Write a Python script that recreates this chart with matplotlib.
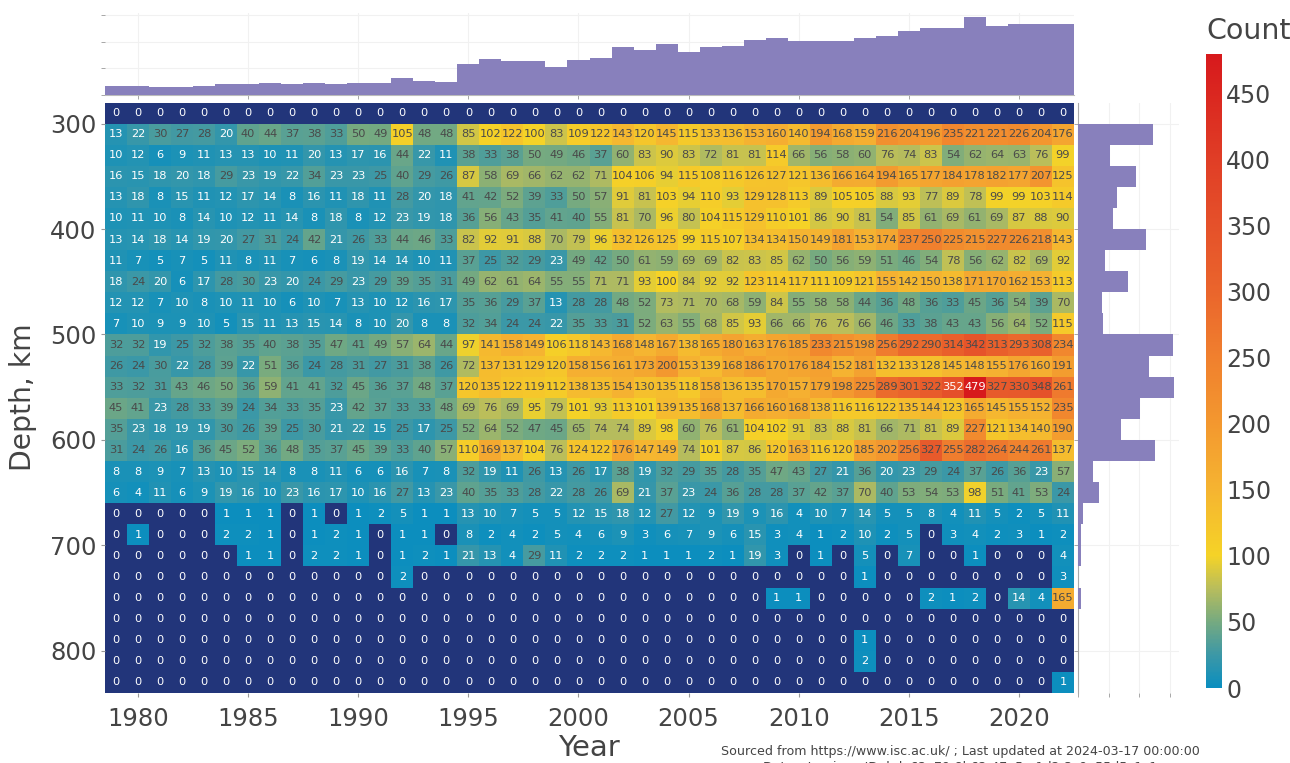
# 地震深度-年份热力图, 上方和右侧为边缘直方图
import numpy as np
import matplotlib
matplotlib.use('Agg')
import matplotlib.pyplot as plt
from matplotlib.colors import LinearSegmentedColormap, Normalize
from matplotlib.cm import ScalarMappable

years = list(range(1979, 2023))
depths = list(range(290, 850, 20))

counts = [
    [0] * 44,
    [13, 22, 30, 27, 28, 20, 40, 44, 37, 38, 33, 50, 49, 105, 48, 48, 85, 102, 122, 100, 83, 109, 122, 143, 120, 145, 115, 133, 136, 153, 160, 140, 194, 168, 159, 216, 204, 196, 235, 221, 221, 226, 204, 176],
    [10, 12, 6, 9, 11, 13, 13, 10, 11, 20, 13, 17, 16, 44, 22, 11, 38, 33, 38, 50, 49, 46, 37, 60, 83, 90, 83, 72, 81, 81, 114, 66, 56, 58, 60, 76, 74, 83, 54, 62, 64, 63, 76, 99],
    [16, 15, 18, 20, 18, 29, 23, 19, 22, 34, 23, 23, 25, 40, 29, 26, 87, 58, 69, 66, 62, 62, 71, 104, 106, 94, 115, 108, 116, 126, 127, 121, 136, 166, 164, 194, 165, 177, 184, 178, 182, 177, 207, 125],
    [13, 18, 8, 15, 11, 12, 17, 14, 8, 16, 11, 18, 11, 28, 20, 18, 41, 42, 52, 39, 33, 50, 57, 91, 81, 103, 94, 110, 93, 129, 128, 113, 89, 105, 105, 88, 93, 77, 89, 78, 99, 99, 103, 114],
    [10, 11, 10, 8, 14, 10, 12, 11, 14, 8, 18, 8, 12, 23, 19, 18, 36, 56, 43, 35, 41, 40, 55, 81, 70, 96, 80, 104, 115, 129, 110, 101, 86, 90, 81, 54, 85, 61, 69, 61, 69, 87, 88, 90],
    [13, 14, 18, 14, 19, 20, 27, 31, 24, 42, 21, 26, 33, 44, 46, 33, 82, 92, 91, 88, 70, 79, 96, 132, 126, 125, 99, 115, 107, 134, 134, 150, 149, 181, 153, 174, 237, 250, 225, 215, 227, 226, 218, 143],
    [11, 7, 5, 7, 5, 11, 8, 11, 7, 6, 8, 19, 14, 14, 10, 11, 37, 25, 32, 29, 23, 49, 42, 50, 61, 59, 69, 69, 82, 83, 85, 62, 50, 56, 59, 51, 46, 54, 78, 56, 62, 82, 69, 92],
    [18, 24, 20, 6, 17, 28, 30, 23, 20, 24, 29, 23, 29, 39, 35, 31, 49, 62, 61, 64, 55, 55, 71, 71, 93, 100, 84, 92, 92, 123, 114, 117, 111, 109, 121, 155, 142, 150, 138, 171, 170, 162, 153, 113],
    [12, 12, 7, 10, 8, 10, 11, 10, 6, 10, 7, 13, 10, 12, 16, 17, 35, 36, 29, 37, 13, 28, 28, 48, 52, 73, 71, 70, 68, 59, 84, 55, 58, 58, 44, 36, 48, 36, 33, 45, 36, 54, 39, 70],
    [7, 10, 9, 9, 10, 5, 15, 11, 13, 15, 14, 8, 10, 20, 8, 8, 32, 34, 24, 24, 22, 35, 33, 31, 52, 63, 55, 68, 85, 93, 66, 66, 76, 76, 66, 46, 33, 38, 43, 43, 56, 64, 52, 115],
    [32, 32, 19, 25, 32, 38, 35, 40, 38, 35, 47, 41, 49, 57, 64, 44, 97, 141, 158, 149, 106, 118, 143, 168, 148, 167, 138, 165, 180, 163, 176, 185, 233, 215, 198, 256, 292, 290, 314, 342, 313, 293, 308, 234],
    [26, 24, 30, 22, 28, 39, 22, 51, 36, 24, 28, 31, 27, 31, 38, 26, 72, 137, 131, 129, 120, 158, 156, 161, 173, 200, 153, 139, 168, 186, 170, 176, 184, 152, 181, 132, 133, 128, 145, 148, 155, 176, 160, 191],
    [33, 32, 31, 43, 46, 50, 36, 59, 41, 41, 32, 45, 36, 37, 48, 37, 120, 135, 122, 119, 112, 138, 135, 154, 130, 135, 118, 158, 136, 135, 170, 157, 179, 198, 225, 289, 301, 322, 352, 479, 327, 330, 348, 261],
    [45, 41, 23, 28, 33, 39, 24, 34, 33, 35, 23, 42, 37, 33, 33, 48, 69, 76, 69, 95, 79, 101, 93, 113, 101, 139, 135, 168, 137, 166, 160, 168, 138, 116, 116, 122, 135, 144, 123, 165, 145, 155, 152, 235],
    [35, 23, 18, 19, 19, 30, 26, 39, 25, 30, 21, 22, 15, 25, 17, 25, 52, 64, 52, 47, 45, 65, 74, 74, 89, 98, 60, 76, 61, 104, 102, 91, 83, 88, 81, 66, 71, 81, 89, 227, 121, 134, 140, 190],
    [31, 24, 26, 16, 36, 45, 52, 36, 48, 35, 37, 45, 39, 33, 40, 57, 110, 169, 137, 104, 76, 124, 122, 176, 147, 149, 74, 101, 87, 86, 120, 163, 116, 120, 185, 202, 256, 327, 255, 282, 264, 244, 261, 137],
    [8, 8, 9, 7, 13, 10, 15, 14, 8, 8, 11, 6, 6, 16, 7, 8, 32, 19, 11, 26, 13, 26, 17, 38, 19, 32, 29, 35, 28, 35, 47, 43, 27, 21, 36, 20, 23, 29, 24, 37, 26, 36, 23, 57],
    [6, 4, 11, 6, 9, 19, 16, 10, 23, 16, 17, 10, 16, 27, 13, 23, 40, 35, 33, 28, 22, 28, 26, 69, 21, 37, 23, 24, 36, 28, 28, 37, 42, 37, 70, 40, 53, 54, 53, 98, 51, 41, 53, 24],
    [0, 0, 0, 0, 0, 1, 1, 1, 0, 1, 0, 1, 2, 5, 1, 1, 13, 10, 7, 5, 5, 12, 15, 18, 12, 27, 12, 9, 19, 9, 16, 4, 10, 7, 14, 5, 5, 8, 4, 11, 5, 2, 5, 11],
    [0, 1, 0, 0, 0, 2, 2, 1, 0, 1, 2, 1, 0, 1, 1, 0, 8, 2, 4, 2, 5, 4, 6, 9, 3, 6, 7, 9, 6, 15, 3, 4, 1, 2, 10, 2, 5, 0, 3, 4, 2, 3, 1, 2],
    [0, 0, 0, 0, 0, 0, 1, 1, 0, 2, 2, 1, 0, 1, 2, 1, 21, 13, 4, 29, 11, 2, 2, 2, 1, 1, 1, 2, 1, 19, 3, 0, 1, 0, 5, 0, 7, 0, 0, 1, 0, 0, 0, 4],
    [0] * 13 + [2] + [0] * 20 + [1] + [0] * 8 + [3],
    [0] * 30 + [1, 1, 0, 0, 0, 0, 0, 2, 1, 2, 0, 14, 4, 165],
    [0] * 44,
    [0] * 34 + [1] + [0] * 9,
    [0] * 34 + [2] + [0] * 9,
    [0] * 43 + [1],
]

# 上方直方图 (每年总数)
year_totals = [339, 334, 288, 288, 350, 425, 425, 463, 400, 450, 400, 450, 450, 638, 525, 488,
               1150, 1338, 1275, 1263, 1050, 1313, 1388, 1788, 1675, 1925, 1600, 1813, 1838, 2050,
               2125, 2013, 2013, 2025, 2138, 2213, 2400, 2500, 2500, 2925, 2588, 2650, 2650, 2650]
# 右侧直方图 (每个深度总数)
depth_totals = [0, 4872, 2066, 3785, 2523, 2284, 4415, 1762, 3263, 1544, 1653, 6177, 4655, 6264,
                4024, 2806, 5046, 979, 1349, 304, 174, 174, 6, 190, 0, 1, 2, 1]

year_ticks = [1980, 1985, 1990, 1995, 2000, 2005, 2010, 2015, 2020]
depth_ticks = [300, 400, 500, 600, 700, 800]
count_ticks = [0, 50, 100, 150, 200, 250, 300, 350, 400, 450]

W, H = 1290, 763
TEXT = '#444444'
GRID = '#f1f1f1'
BAR = '#8880bc'
plt.rcParams['font.family'] = ['DejaVu Sans']


def px_axes(x0, y0, x1, y1):
    # 用像素坐标 (左上角为原点) 建坐标轴
    return fig.add_axes([x0 / W, 1 - y1 / H, (x1 - x0) / W, (y1 - y0) / H])


fig = plt.figure(figsize=(W / 100, H / 100), dpi=100)

# 颜色
stops = [(0, '#0a8ebf'), (25, '#3d98a6'), (50, '#76aa80'), (75, '#b8bd5c'), (100, '#f5d327'),
         (150, '#f5b431'), (200, '#f3982f'), (250, '#f0802e'), (300, '#ea652c'),
         (350, '#e5512a'), (400, '#e03e26'), (480, '#d7191c')]
cmap = LinearSegmentedColormap.from_list('cnt', [(v / 480, c) for v, c in stops], N=480)
cmap.set_bad('#22357a')
norm = Normalize(0, 480)

z = np.array(counts)
x_edges = np.arange(1978.5, 2023.5)
y_edges = np.arange(280, 860, 20)

# 主图
ax = px_axes(105, 102.5, 1074, 693)
ax.pcolormesh(x_edges, y_edges, np.ma.masked_equal(z, 0), cmap=cmap, norm=norm)
ax.set_facecolor('#22357a')
ax.set_xlim(1978.5, 2022.5)
ax.set_ylim(840, 280)
for i, d in enumerate(depths):
    for j, yr in enumerate(years):
        v = counts[i][j]
        col = 'white' if v <= 23 or v >= 350 else '#4a4a4a'
        ax.text(yr, d, str(v), ha='center', va='center', fontsize=8.2, color=col)
ax.set_xticks(year_ticks)
ax.set_yticks(depth_ticks)
ax.tick_params(axis='both', labelsize=17.5, colors=TEXT, length=3, width=0.8, color='#999999')
ax.tick_params(axis='y', pad=3)
ax.tick_params(axis='x', pad=7)
for s in ax.spines.values():
    s.set_visible(False)
fig.text(589 / W, 1 - 748 / H, 'Year', fontsize=21, color=TEXT, ha='center', va='center')
fig.text(23 / W, 1 - 397 / H, 'Depth, km', fontsize=20.3, color=TEXT, ha='center', va='center', rotation=90)

# 上方直方图
ax_top = px_axes(105, 13, 1074, 95)
ax_top.stairs(year_totals, x_edges, fill=True, color=BAR, zorder=3)
ax_top.set_xlim(1978.5, 2022.5)
ax_top.set_ylim(0, 3075)
ax_top.set_xticks(year_ticks)
ax_top.set_yticks([0, 1000, 2000, 3000])
ax_top.grid(color=GRID, lw=0.8, zorder=0)
ax_top.tick_params(labelbottom=False, labelleft=False, length=3, width=0.6, color='#999999')
for s in ['top', 'right', 'left']:
    ax_top.spines[s].set_visible(False)
ax_top.spines['bottom'].set_color('#bbbbbb')

# 右侧直方图
ax_r = px_axes(1078, 102.5, 1179, 693)
ax_r.stairs(depth_totals, y_edges, fill=True, color=BAR, orientation='horizontal', zorder=3)
ax_r.set_ylim(840, 280)
ax_r.set_xlim(0, 6600)
ax_r.set_yticks(depth_ticks)
ax_r.set_xticks([0, 2000, 4000, 6000])
ax_r.grid(color=GRID, lw=0.8, zorder=0)
ax_r.tick_params(labelbottom=False, labelleft=False, length=3, width=0.6, color='#999999')
for s in ['top', 'right', 'bottom']:
    ax_r.spines[s].set_visible(False)
ax_r.spines['left'].set_color('#aaaaaa')

# 颜色条
cax = px_axes(1206, 54, 1222, 688)
cb = fig.colorbar(ScalarMappable(norm=norm, cmap=cmap), cax=cax, ticks=count_ticks)
cb.outline.set_visible(False)
cb.ax.tick_params(labelsize=17, colors=TEXT, length=0, pad=3)
fig.text(1206 / W, 1 - 31 / H, 'Count', fontsize=20.5, color=TEXT, ha='left', va='center')

# 数据来源
fig.text(960 / W, 1 - 751 / H, 'Sourced from https://www.isc.ac.uk/ ; Last updated at 2024-03-17 00:00:00',
         fontsize=9.05, color=TEXT, ha='center', va='center')
fig.text(960 / W, 1 - 767 / H, 'Dataset unique ID: bde62a79-8b62-47e5-a1d2-3c9e55d5c1c1',
         fontsize=9.05, color=TEXT, ha='center', va='center')

fig.savefig('out.png', dpi=100)
